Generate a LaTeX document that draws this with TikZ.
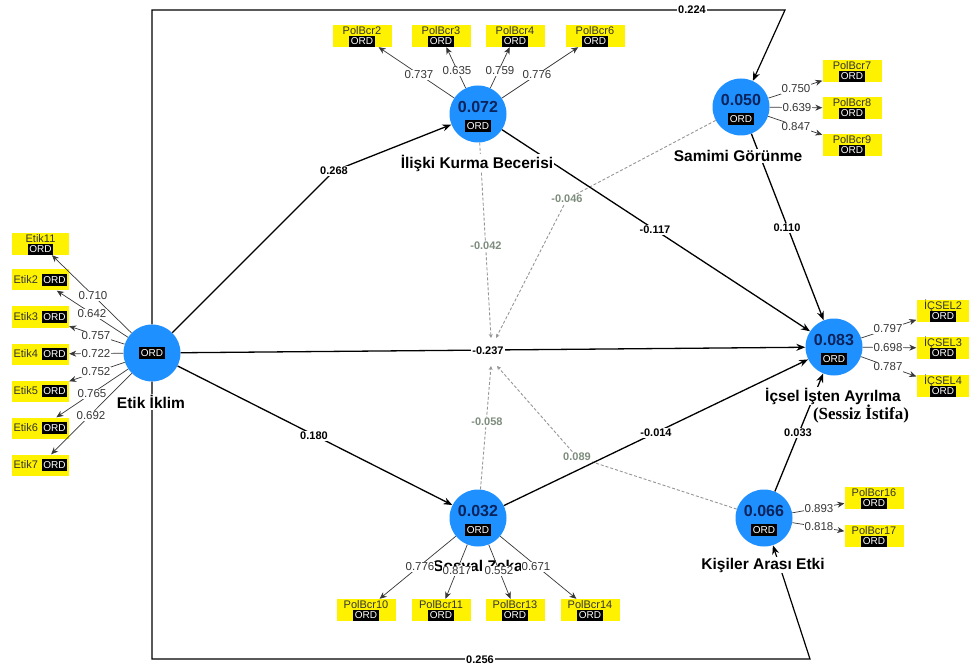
\documentclass[tikz,border=0pt]{standalone}
\usepackage{fontspec}
\setmainfont{Liberation Sans}
\newfontfamily\serifbf{Liberation Serif}
\usetikzlibrary{arrows.meta}
\definecolor{lvblue}{RGB}{30,144,255}
\definecolor{lvval}{RGB}{10,35,90}
\definecolor{indyel}{RGB}{255,242,0}
\definecolor{dashgr}{RGB}{150,150,150}
\definecolor{modlbl}{RGB}{125,140,125}
\definecolor{loadgr}{RGB}{55,55,55}
\newcommand\indv[5][59pt]{%
  \node[indbox,minimum width=#1] (#2) at (#3,#4) {};
  \node[indtxt] at ([yshift=5.5pt]#2.center) {#5};
  \node[ordbox] at ([yshift=-5.5pt]#2.center) {ORD};}
\newcommand\indh[4]{%
  \node[indbox,minimum width=57pt,minimum height=21pt] (#1) at (#2,#3) {};
  \node[indtxt,anchor=west] at ([xshift=1.5pt]#1.west) {#4};
  \node[ordbox,anchor=east] at ([xshift=-2pt]#1.east) {ORD};}
\begin{document}
\begin{tikzpicture}[x=1pt,y=-1pt,
 lv/.style={circle,fill=lvblue,minimum size=57pt,inner sep=0pt},
 val/.style={font=\fontsize{16}{18}\selectfont\bfseries,text=lvval,inner sep=0pt},
 ordbox/.style={fill=black,text=white,font=\fontsize{10}{11}\selectfont,inner xsep=1.5pt,inner ysep=0.8pt,minimum height=11.5pt},
 indbox/.style={fill=indyel,minimum width=59pt,minimum height=22pt,inner sep=0pt},
 indtxt/.style={font=\fontsize{11}{12}\selectfont,text=black!80,inner sep=0pt},
 cname/.style={font=\fontsize{15.5}{17}\selectfont\bfseries,fill=white,inner sep=1pt},
 sp/.style={line width=1.3pt,-{Stealth[length=9pt,width=7pt]}},
 sl/.style={font=\fontsize{11}{12}\selectfont\bfseries,fill=white,inner sep=1pt},
 ld/.style={line width=0.7pt,draw=loadgr,-{Stealth[length=7pt,width=6pt]}},
 ll/.style={font=\fontsize{11.5}{12}\selectfont,text=loadgr,fill=white,inner sep=0.5pt},
 md/.style={line width=0.9pt,draw=dashgr,dash pattern=on 3pt off 2pt,-{Stealth[length=4pt,width=4pt]}},
 ml/.style={font=\fontsize{11}{12}\selectfont\bfseries,text=modlbl,fill=white,inner sep=1pt},
]
\useasboundingbox (0,0) rectangle (969,668);
\fill[white] (0,0) rectangle (969,668);

% latent variables
\node[lv] (etik) at (152,353) {};
\node[ordbox] at (etik.center) {ORD};
\node[lv] (ilis) at (478,114) {};
\node[val] at ([yshift=7pt]ilis.center) {0.072};
\node[ordbox] at ([yshift=-12pt]ilis.center) {ORD};
\node[lv] (sam) at (741,107) {};
\node[val] at ([yshift=7pt]sam.center) {0.050};
\node[ordbox] at ([yshift=-12pt]sam.center) {ORD};
\node[lv] (icsel) at (834,347) {};
\node[val] at ([yshift=7pt]icsel.center) {0.083};
\node[ordbox] at ([yshift=-12pt]icsel.center) {ORD};
\node[lv] (kis) at (764,518) {};
\node[val] at ([yshift=7pt]kis.center) {0.066};
\node[ordbox] at ([yshift=-12pt]kis.center) {ORD};
\node[lv] (sos) at (478,518) {};
\node[val] at ([yshift=7pt]sos.center) {0.032};
\node[ordbox] at ([yshift=-12pt]sos.center) {ORD};

% indicators
\indv[57pt]{e11}{40.5}{244}{Etik11}
\indh{e2}{40.5}{280}{Etik2}
\indh{e3}{40.5}{317}{Etik3}
\indh{e4}{40.5}{354}{Etik4}
\indh{e5}{40.5}{391}{Etik5}
\indh{e6}{40.5}{428}{Etik6}
\indh{e7}{40.5}{465}{Etik7}
\indv{p2}{362}{36}{PolBcr2}
\indv{p3}{441}{36}{PolBcr3}
\indv{p4}{515}{36}{PolBcr4}
\indv{p6}{595}{36}{PolBcr6}
\indv{p7}{852}{71}{PolBcr7}
\indv{p8}{852}{108}{PolBcr8}
\indv{p9}{852}{145}{PolBcr9}
\indv[53pt]{i2}{943}{311}{İÇSEL2}
\indv[53pt]{i3}{943}{348}{İÇSEL3}
\indv[53pt]{i4}{943}{386}{İÇSEL4}
\indv{p16}{874}{498}{PolBcr16}
\indv{p17}{874}{536}{PolBcr17}
\indv{p10}{366}{610}{PolBcr10}
\indv{p11}{441}{610}{PolBcr11}
\indv{p13}{515}{610}{PolBcr13}
\indv{p14}{590}{610}{PolBcr14}

% moderating (dashed) effects
\coordinate (m1) at (491,338);
\coordinate (m2) at (496,338);
\coordinate (m3) at (491,366);
\coordinate (m4) at (497,366);
\coordinate (b46) at (567,199);
\coordinate (b89) at (577,457);
\draw[md] (ilis) -- (m1) node[ml,at={(486,246)}] {-0.042};
\draw[md] (sam) -- (b46) -- (m2) node[ml,at={(b46)}] {-0.046};
\draw[md] (sos) -- (m3) node[ml,at={(487,422)}] {-0.058};
\draw[md] (kis) -- (b89) -- (m4) node[ml,at={(b89)}] {0.089};

% structural paths
\coordinate (b268) at (334,171);
\coordinate (c1) at (785,10);
\coordinate (c2) at (810,659);
\draw[sp] (etik) -- (b268) -- (ilis) node[sl,at={(b268)}] {0.268};
\draw[sp] (etik) -- (icsel) node[sl,at={(488,351)}] {-0.237};
\draw[sp] (etik) -- (sos) node[sl,at={(314,436)}] {0.180};
\draw[sp] (ilis) -- (icsel) node[sl,at={(655,230)}] {-0.117};
\draw[sp] (sam) -- (icsel) node[sl,at={(787,228)}] {0.110};
\draw[sp] (sos) -- (icsel) node[sl,at={(656,433)}] {-0.014};
\draw[sp] (kis) -- (icsel) node[sl,at={(798,433)}] {0.033};
\draw[sp,line width=1.2pt] (etik.north) |- (c1) -- (sam) node[sl,at={(692,10)}] {0.224};
\draw[sp,line width=1.2pt] (etik.south) |- (c2) -- (kis) node[sl,at={(480,660)}] {0.256};

% construct label that the loadings partly cover
\node[cname,fill=none] (sosname) at (478,567) {Sosyal Zeka};

% outer loadings
\draw[ld] (etik) -- (e11) node[ll,at={(93,296)}] {0.710};
\draw[ld] (etik) -- (e2) node[ll,at={(92,314)}] {0.642};
\draw[ld] (etik) -- (e3) node[ll,at={(96,336)}] {0.757};
\draw[ld] (etik) -- (e4) node[ll,at={(96,354)}] {0.722};
\draw[ld] (etik) -- (e5) node[ll,at={(96,372)}] {0.752};
\draw[ld] (etik) -- (e6) node[ll,at={(92,394)}] {0.765};
\draw[ld] (etik) -- (e7) node[ll,at={(91,416)}] {0.692};
\draw[ld] (ilis) -- (p2) node[ll,at={(419,75)}] {0.737};
\draw[ld] (ilis) -- (p3) node[ll,at={(457,71)}] {0.635};
\draw[ld] (ilis) -- (p4) node[ll,at={(500,71)}] {0.759};
\draw[ld] (ilis) -- (p6) node[ll,at={(537,75)}] {0.776};
\draw[ld] (sam) -- (p7) node[ll,at={(796,89)}] {0.750};
\draw[ld] (sam) -- (p8) node[ll,at={(797,108)}] {0.639};
\draw[ld] (sam) -- (p9) node[ll,at={(796,127)}] {0.847};
\draw[ld] (icsel) -- (i2) node[ll,at={(888,329)}] {0.797};
\draw[ld] (icsel) -- (i3) node[ll,at={(888,348)}] {0.698};
\draw[ld] (icsel) -- (i4) node[ll,at={(888,367)}] {0.787};
\draw[ld] (kis) -- (p16) node[ll,at={(819,509)}] {0.893};
\draw[ld] (kis) -- (p17) node[ll,at={(819,527)}] {0.818};
\draw[ld] (sos) -- (p10) node[ll,at={(420,567)}] {0.776};
\draw[ld] (sos) -- (p11) node[ll,at={(457,571)}] {0.817};
\draw[ld] (sos) -- (p13) node[ll,at={(499,571)}] {0.552};
\draw[ld] (sos) -- (p14) node[ll,at={(536,567)}] {0.671};

% construct names
\node[cname] (ilisname) at (477,163) {İlişki Kurma Becerisi};
\node[cname] (samname) at (738,156) {Samimi Görünme};
\node[cname] (etikname) at (151,402) {Etik İklim};
\node[cname] (icselname) at (833,396) {İçsel İşten Ayrılma};
\node[font=\serifbf\fontsize{17}{19}\selectfont\bfseries,inner sep=0.5pt] (icselsub) at (861,414) {(Sessiz İstifa)};
\node[cname] (kisname) at (763,565) {Kişiler Arası Etki};
\end{tikzpicture}
\end{document}
